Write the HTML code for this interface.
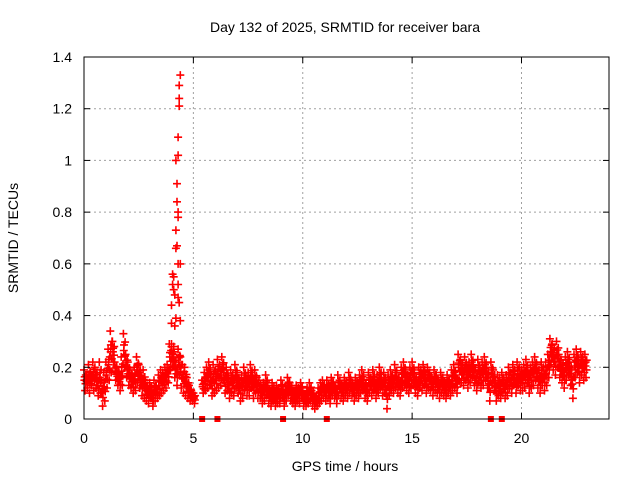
<!DOCTYPE html>
<html><head><meta charset="utf-8"><style>
html,body{margin:0;padding:0;background:#fff;}
svg{display:block;font-family:"Liberation Sans",sans-serif;}
</style></head><body>
<svg id="chart" width="640" height="480">
<rect width="640" height="480" fill="#fff"/>
<text x="345" y="32" font-size="14" text-anchor="middle">Day 132 of 2025, SRMTID for receiver bara</text>
<text x="345" y="471" font-size="14" text-anchor="middle">GPS time / hours</text>
<text transform="translate(18,238) rotate(-90)" font-size="14" text-anchor="middle">SRMTID / TECUs</text>
<g id="grid"></g><g id="marks"></g><g id="axes"></g>
</svg>
<script>
const xTicks=[0,5,10,15,20];
const yTicks=[0,0.2,0.4,0.6,0.8,1,1.2,1.4];
const yTickLabels=["0","0.2","0.4","0.6","0.8","1","1.2","1.4"];
const upper=[.19,.17,.21,.18,.22,.20,.17,.22,.15,.18,
.22,.27,.34,.30,.22,.20,.18,.24,.33,.25,
.22,.19,.17,.20,.24,.21,.17,.19,.15,.13,
.14,.11,.15,.13,.17,.19,.18,.20,.21,.29,
.28,.25,.22,.27,.24,.21,.20,.16,.13,.11,
.10,null,null,null,.15,.18,.20,.22,.17,.21,
.19,.23,.21,.24,.18,.20,.16,.19,.17,.21,
.18,.15,.17,.20,.16,.18,.21,.17,.19,.16,
.15,.12,.14,.17,.13,.11,.14,.10,.13,.12,
.15,.11,.13,.16,.14,.12,.10,.13,.12,.14,
.11,.09,.12,.14,.11,.10,.08,.12,.14,.15,
.13,.15,.12,.16,.14,.12,.17,.15,.13,.16,
.14,.18,.15,.13,.16,.14,.17,.19,.15,.13,
.18,.16,.19,.15,.17,.20,.16,.18,.15,.17,
.19,.17,.21,.18,.16,.20,.22,.19,.17,.20,
.22,.18,.16,.20,.19,.21,.17,.20,.18,.16,
.19,.17,.15,.18,.16,.14,.17,.15,.19,.21,
.17,.25,.23,.21,.24,.20,.22,.25,.21,.19,
.23,.20,.22,.24,.20,.17,.22,.19,.15,.17,
.16,.18,.15,.17,.20,.18,.21,.17,.22,.20,
.19,.21,.23,.18,.20,.22,.24,.21,.19,.22,
.20,.22,.25,.31,.29,.27,.30,.25,.23,.21,
.24,.26,.22,.19,.25,.27,.23,.26,.24,.25];
const lower=[.11,.12,.10,.13,.11,.12,.09,.10,.05,.07,
.12,.15,.18,.22,.15,.13,.11,.13,.20,.16,
.13,.12,.10,.11,.14,.12,.09,.08,.07,.06,
.08,.05,.07,.08,.09,.10,.11,.12,.14,.19,
.20,.16,.13,.17,.12,.10,.09,.08,.07,.07,
.06,null,null,null,.10,.11,.12,.13,.09,.10,
.11,.12,.13,.15,.10,.11,.08,.10,.09,.12,
.10,.07,.08,.11,.09,.09,.12,.08,.10,.08,
.08,.06,.07,.09,.06,.05,.07,.05,.06,.06,
.08,.05,.07,.09,.07,.06,.05,.07,.06,.08,
.05,.05,.06,.07,.05,.04,.05,.06,.07,.08,
.07,.08,.06,.09,.08,.06,.09,.08,.07,.09,
.08,.10,.09,.07,.09,.08,.10,.11,.08,.07,
.10,.09,.11,.08,.10,.12,.09,.10,.04,.09,
.11,.10,.12,.10,.09,.12,.13,.11,.10,.12,
.13,.10,.09,.12,.11,.13,.10,.12,.11,.09,
.11,.10,.08,.10,.09,.08,.10,.09,.11,.12,
.10,.15,.14,.13,.15,.12,.14,.16,.13,.11,
.14,.12,.13,.15,.12,.07,.13,.11,.07,.09,
.08,.10,.08,.09,.12,.10,.13,.10,.13,.11,
.11,.12,.14,.10,.12,.13,.15,.12,.10,.13,
.11,.13,.16,.21,.19,.17,.20,.16,.14,.12,
.15,.17,.13,.08,.16,.18,.14,.17,.15,.16];
const spikeX=[4.05,4.1,4.0,4.05,4.1,4.15,4.2,4.2,4.25,4.25,4.2,4.3,4.3,4.35,4.35,4.4,4.35,4.3,4.3,4.25,4.3,4.4,4.35,4.4,4.2,4.15,4.0,4.0,4.1,4.3,4.3];
const spikeY=[.56,.55,.44,.52,.5,.48,.66,.73,.84,.91,1.0,1.02,1.09,1.21,1.29,1.33,1.24,.78,.8,.67,.60,.6,.45,.38,.39,.36,.37,.29,.28,.47,.52];
const gapX=[5.4,6.1,9.1,11.1,18.6,19.1];

const L=84,R=609,T=57,B=419;
const sx=v=>L+(v-0)/24*(R-L);
const sy=v=>B-(v/1.4)*(B-T);
const NS="http://www.w3.org/2000/svg";
const grid=document.getElementById('grid'),marks=document.getElementById('marks'),axes=document.getElementById('axes');
function mk(tag,attrs,parent){const e=document.createElementNS(NS,tag);for(const k in attrs)e.setAttribute(k,attrs[k]);parent.appendChild(e);return e;}
yTicks.forEach((t,i)=>{
  const y=sy(t);
  if(i>0&&i<yTicks.length-1){const g=mk('line',{x1:L,x2:R,y1:y,y2:y,stroke:'#a0a0a0','stroke-dasharray':'2,3'},grid);
  
  }
  mk('line',{x1:L,x2:L+6,y1:y,y2:y,stroke:'#000'},axes);
  mk('line',{x1:R,x2:R-6,y1:y,y2:y,stroke:'#000'},axes);
  const tx=mk('text',{x:L-12,y:y+5,'font-size':14,'text-anchor':'end'},axes);
  tx.textContent=yTickLabels[i];
  
  
});
xTicks.forEach(t=>{
  const x=sx(t);
  if(t>0){const g=mk('line',{x1:x,x2:x,y1:T,y2:B,stroke:'#a0a0a0','stroke-dasharray':'2,3'},grid);
  
  }
  mk('line',{x1:x,x2:x,y1:B,y2:B-6,stroke:'#000'},axes);
  mk('line',{x1:x,x2:x,y1:T,y2:T+6,stroke:'#000'},axes);
  const tx=mk('text',{x:x,y:B+24,'font-size':14,'text-anchor':'middle'},axes);
  tx.textContent=String(t);
  
  
});
const frame=mk('rect',{x:L,y:T,width:R-L,height:B-T,fill:'none',stroke:'#000'},axes);


let d='';
function plus(x,y){const px=sx(x),py=sy(y);d+=`M${(px-4).toFixed(1)} ${py.toFixed(1)}h8M${px.toFixed(1)} ${(py-4).toFixed(1)}v8`;}
for(let i=0;i<upper.length;i++){
  const x=i*0.1;
  if(upper[i]==null)continue;
  plus(x,upper[i]);plus(x+0.05,lower[i]);
  plus(x+0.03,(upper[i]*2+lower[i])/3);plus(x+0.07,(upper[i]+lower[i]*2)/3);
  plus(x+0.02,(upper[i]+lower[i])/2);plus(x+0.08,(upper[i]*3+lower[i])/4);
}
for(let i=0;i<spikeX.length;i++)plus(spikeX[i],spikeY[i]);
const p=mk('path',{d:d,stroke:'#ff0000','stroke-width':1.6,fill:'none'},marks);


gapX.forEach(g=>{
  const r=mk('rect',{x:sx(g)-3,y:B-3,width:6,height:6,fill:'#ff0000'},marks);
  
  
});
</script>
</body></html>
